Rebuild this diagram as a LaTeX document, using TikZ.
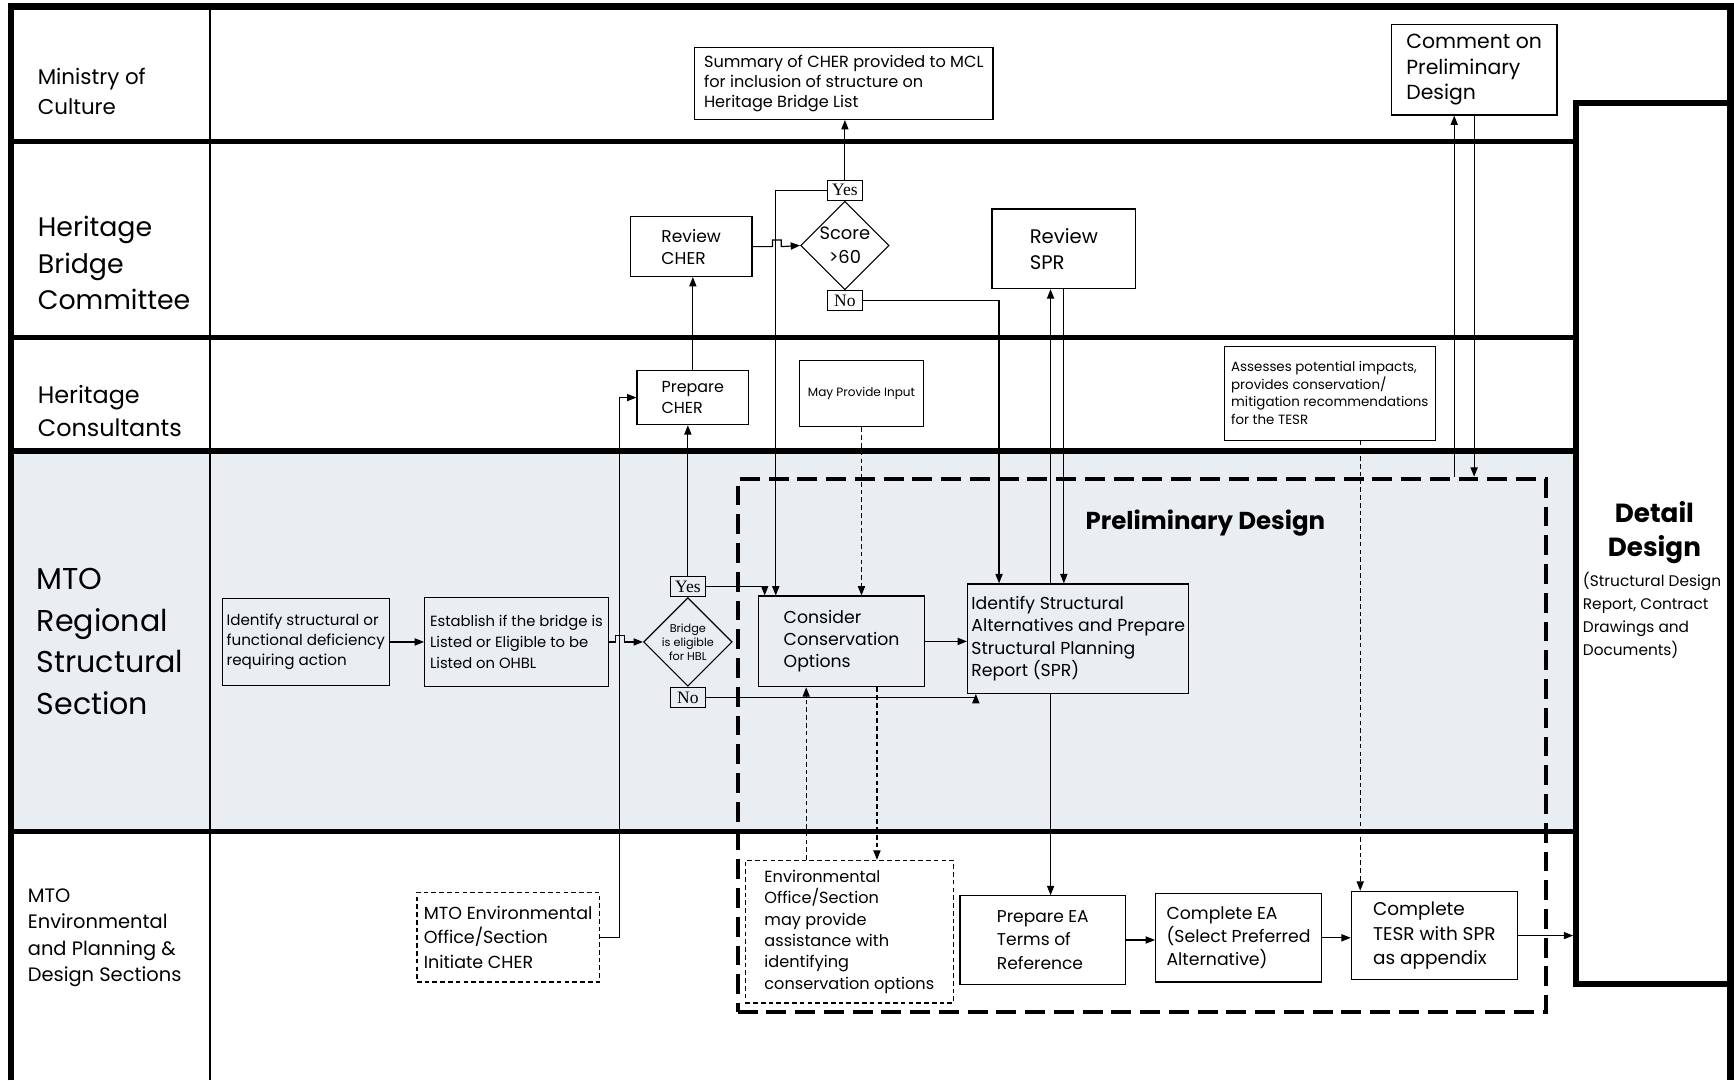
\documentclass[tikz,border=0pt]{standalone}
\usepackage{fontspec}
\setmainfont{Poppins}
\newfontfamily\yesnofont{Liberation Serif}
\usetikzlibrary{arrows.meta,shapes.geometric,calc}
\newcommand{\fsz}[2]{\fontsize{#1}{#2}\selectfont}
\definecolor{laneshade}{RGB}{232,238,242}

\tikzset{
  box/.style={draw, line width=0.6pt, align=left, inner sep=2pt},
  dbox/.style={box, dash pattern=on 2.4pt off 1.6pt},
  decision/.style={draw, diamond, line width=0.6pt, align=center, inner sep=0pt},
  yesno/.style={draw, line width=0.6pt, font=\yesnofont\fsz{9}{10}, inner sep=0pt,
    minimum width=0.64cm, minimum height=0.36cm},
  flow/.style={line width=0.6pt, -{Triangle[length=0.17cm,width=0.13cm]}},
  dflow/.style={flow, dash pattern=on 2.4pt off 1.6pt},
  lane/.style={line width=2.8pt},
  frame/.style={line width=3.4pt},
  lanelabel/.style={anchor=west, align=left},
}

\begin{document}
\begin{tikzpicture}[x=0.02cm, y=-0.02cm]
        \useasboundingbox (0,0) rectangle (1568,977);

        \fill [laneshade] (10,408) rectangle (1425,752);
        \foreach \y in {128,305,408,752}
            \draw [lane] (10,\y) -- (1425,\y);
        \draw [frame] (10,977) -- (10,6) -- (1565,6) -- (1565,977);
        \draw [line width=0.9pt] (190,6) -- (190,977);

        \node[lanelabel, font=\fsz{11}{15.3}] (mcl) at (28,83) {Ministry of\\Culture};
        \node[lanelabel, font=\fsz{13.8}{18.7}] (hbc) at (28,238) {Heritage\\Bridge\\Committee};
        \node[lanelabel, font=\fsz{12.3}{17}] (hcons) at (28,372) {Heritage\\Consultants};
        \node[lanelabel, font=\fsz{15.5}{21.5}] (mtors) at (27,580) {MTO\\Regional\\Structural\\Section};
        \node[lanelabel, font=\fsz{10}{13.6}] (mtoep) at (19,848) {MTO\\Environmental\\and Planning \&\\Design Sections};

        \node[draw, line width=2.8pt, minimum width=2.8cm, minimum height=15.94cm] (detail) at (1495,491.5) {};
        \node[align=center, font=\bfseries\fsz{13.5}{17.5}] (detailTitle) at (1496,482) {Detail\\Design};
        \node[anchor=north west, align=left, font=\fsz{7.9}{11.9}, inner sep=0pt] (detailNote) at (1431,517)
            {(Structural Design\\Report, Contract\\Drawings and\\Documents)};

        \node[draw, line width=2.2pt, dash pattern=on 0.36cm off 0.16cm, minimum width=14.62cm,
            minimum height=9.64cm] (prelim) at (1032.5,674) {};
        \node[font=\bfseries\fsz{12.6}{15}] (prelimTitle) at (1090,473) {Preliminary Design};

        \node[box, font=\fsz{8.3}{10.2}, minimum width=5.4cm, minimum height=1.3cm] (sumCHER) at (763,75.5)
            {Summary of CHER provided to MCL\\for inclusion of structure on\\Heritage Bridge List};
        \node[box, font=\fsz{10.5}{13}, minimum width=3cm, minimum height=1.64cm] (comment) at (1333,63)
            {Comment on\\Preliminary\\Design};
        \node[box, font=\fsz{8.8}{11.3}, minimum width=2.2cm, minimum height=1.08cm] (reviewCHER) at (625,223)
            {Review\\CHER};
        \node[decision, font=\fsz{9.2}{12.5}, minimum width=1.6cm, minimum height=1.6cm] (score) at (764,222)
            {Score\\>60};
        \node[yesno, anchor=south] (yesScore) at (score.north) {Yes};
        \node[yesno, anchor=north] (noScore) at (score.south) {No};
        \node[box, font=\fsz{10.1}{13.6}, minimum width=2.6cm, minimum height=1.44cm] (reviewSPR) at (962,225)
            {Review\\SPR};
        \node[box, font=\fsz{8.2}{10.8}, minimum width=2.02cm, minimum height=0.98cm] (prepCHER) at (626.5,359.5)
            {Prepare\\CHER};
        \node[box, font=\fsz{6.2}{7.5}, minimum width=2.24cm, minimum height=1.2cm] (mayInput) at (779,356)
            {May Provide Input};
        \node[box, font=\fsz{6.9}{9}, minimum width=3.82cm, minimum height=1.7cm] (assess) at (1202.5,355.5)
            {Assesses potential impacts,\\provides conservation/\\mitigation recommendations\\for the TESR};

        \node[box, font=\fsz{7.8}{10.2}, minimum width=3.02cm, minimum height=1.58cm] (identify) at (276.5,580.5)
            {Identify structural or\\functional deficiency\\requiring action};
        \node[box, font=\fsz{7.6}{10.8}, minimum width=3.32cm, minimum height=1.62cm] (establish) at (467,580.5)
            {Establish if the bridge is\\Listed or Eligible to be\\Listed on OHBL};
        \node[decision, font=\fsz{5.8}{7.2}, minimum width=1.56cm, minimum height=1.56cm] (bridge) at (622,580.5)
            {Bridge\\is eligible\\for HBL};
        \node[yesno, anchor=south] (yesHBL) at (bridge.north) {Yes};
        \node[yesno, anchor=north] (noHBL) at (bridge.south) {No};
        \node[box, font=\fsz{8.9}{11.3}, minimum width=3cm, minimum height=1.64cm] (consider) at (761,580)
            {Consider\\Conservation\\Options};
        \node[box, font=\fsz{8.9}{11.6}, minimum width=4cm, minimum height=1.98cm] (identSPR) at (975,577.5)
            {Identify Structural\\Alternatives and Prepare\\Structural Planning\\Report (SPR)};

        \node[dbox, font=\fsz{9}{12.5}, minimum width=3.3cm, minimum height=1.62cm] (mtoEnv) at (459.5,847.5)
            {MTO Environmental\\Office/Section\\Initiate CHER};
        \node[dbox, font=\fsz{8.3}{11}, minimum width=3.76cm, minimum height=2.58cm] (envOffice) at (768,842.5)
            {Environmental\\ Office/Section\\may provide\\assistance with\\identifying\\conservation options};
        \node[box, font=\fsz{8.8}{11.9}, minimum width=3cm, minimum height=1.6cm] (prepEA) at (943,850)
            {Prepare EA\\Terms of\\Reference};
        \node[box, font=\fsz{8.9}{11.9}, minimum width=3cm, minimum height=1.6cm] (completeEA) at (1120,848)
            {Complete EA\\(Select Preferred\\Alternative)};
        \node[box, font=\fsz{9.5}{12.5}, minimum width=3cm, minimum height=1.6cm] (completeTESR) at (1297,846)
            {Complete\\TESR with SPR\\as appendix};

        \draw [flow] (identify.east) -- (establish.west);
        \draw [flow] (establish.east) -- ++(6,0) -- ++(0,-6) -- ++(8,0) -- ++(0,6) -- (bridge.west);
        \draw [flow] (mtoEnv.east) -- ++(18,0) |- (prepCHER.west);
        \draw [flow] (yesHBL.north) -- (yesHBL.north |- prepCHER.south);
        \draw [flow] (prepCHER.north) -- (prepCHER.north |- reviewCHER.south);
        \draw [flow] (yesHBL.east) -| ($(consider.north west)+(6,0)$);
        \draw [flow] (reviewCHER.east) -- ++(18,0) -- ++(0,-6) -- ++(8,0) -- ++(0,6) -- (score.west);
        \draw [flow] (yesScore.north) -- (yesScore.north |- sumCHER.south);
        \draw [flow] (yesScore.west) -| ($(consider.north west)+(16,0)$);
        \draw [flow] (noScore.east) -| ($(identSPR.north west)+(29,0)$);
        \draw [dflow] (mayInput.south) -- (mayInput.south |- consider.north);
        \draw [flow] (consider.east) -- (identSPR.west |- consider.east);
        \draw [flow] (noHBL.east) -| ($(identSPR.south west)+(8,0)$);
        \draw [flow] ($(identSPR.north)+(-25,0)$) coordinate (sprUp) -- (sprUp |- reviewSPR.south);
        \draw [flow] (reviewSPR.south) -- (reviewSPR.south |- identSPR.north);
        \draw [flow] ($(identSPR.south)+(-25,0)$) coordinate (sprDown) -- (sprDown |- prepEA.north);
        \draw [dflow] ($(envOffice.north)+(-39,0)$) coordinate (envUp) -- (envUp |- consider.south);
        \draw [dflow] ($(consider.south)+(32,0)$) coordinate (envDown) -- (envDown |- envOffice.north);
        \draw [flow] (prepEA.east) -- (completeEA.west |- prepEA.east);
        \draw [flow] (completeEA.east) -- (completeTESR.west |- completeEA.east);
        \draw [flow] (completeTESR.east) -- (completeTESR.east -| detail.west);
        \draw [dflow] ($(assess.south)+(27.5,0)$) coordinate (tesrIn) -- (tesrIn |- completeTESR.north);
        \path ($(comment.south)+(-18,0)$) coordinate (commentIn);
        \draw [flow] (commentIn |- prelim.north) -- (commentIn);
        \draw [flow] (comment.south) -- (comment.south |- prelim.north);
\end{tikzpicture}
\end{document}
